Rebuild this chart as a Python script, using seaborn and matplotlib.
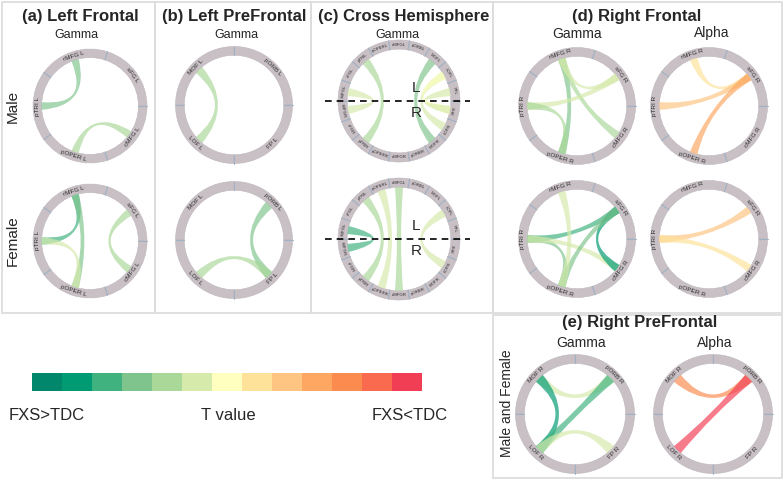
import numpy as np
import matplotlib
matplotlib.use('Agg')
import matplotlib.pyplot as plt
import seaborn as sns
from matplotlib.path import Path
from matplotlib.patches import PathPatch, Wedge, Rectangle
from matplotlib.colors import ListedColormap

# colour bins of the T value, from FXS>TDC (green) to FXS<TDC (red)
t_colors = ['#00876C', '#009B72', '#3FB27F', '#7FC48D', '#AAD899', '#D6EAAC', '#FFFFBF',
            '#FEE29A', '#FDC581', '#FDA762', '#FB8B4F', '#F96A4E', '#F23E55']
t_bins = [0, 1, 2, 3, 4, 5, 6, 7, 8, 9, 10, 11, 12]

# regions, in ring order (counter-clockwise starting at 3 o'clock)
frontal_l = ['sFG L', 'rMFG L', 'pTRI L', 'pOPER L', 'cMFG L']
frontal_r = ['sFG R', 'rMFG R', 'pTRI R', 'pOPER R', 'cMFG R']
prefrontal_l = ['pORB L', 'MOF L', 'LOF L', 'FP L']
prefrontal_r = ['pORB R', 'MOF R', 'LOF R', 'FP R']
cross = ['FPL', 'LOFL', 'MOFL', 'pORBL', 'cMFGL', 'pOPERL', 'pTRIL', 'sFGL', 'rMFGL',
         'rMFGR', 'sFGR', 'pTRIR', 'pOPERR', 'cMFGR', 'pORBR', 'MOFR', 'LOFR', 'FPR']

# significant connections: (region, region, T colour bin)
a_male = [('rMFG L', 'pTRI L', 3), ('pOPER L', 'cMFG L', 4)]
a_female = [('rMFG L', 'pTRI L', 2), ('rMFG L', 'pOPER L', 3),
            ('pTRI L', 'pOPER L', 5), ('sFG L', 'cMFG L', 4)]
b_male = [('MOF L', 'LOF L', 4)]
b_female = [('pORB L', 'FP L', 3), ('LOF L', 'FP L', 4)]
c_male = [('pTRIL', 'pTRIR', 4), ('MOFL', 'MOFR', 3), ('rMFGL', 'rMFGR', 5),
          ('LOFL', 'LOFR', 5), ('LOFL', 'FPR', 6), ('FPL', 'FPR', 5)]
c_female = [('rMFGL', 'rMFGR', 2), ('pTRIL', 'pTRIR', 4), ('pOPERL', 'pOPERR', 5),
            ('cMFGL', 'cMFGR', 4), ('LOFL', 'LOFR', 5)]
d_gamma_male = [('rMFG R', 'pOPER R', 3), ('rMFG R', 'cMFG R', 4), ('sFG R', 'pTRI R', 5),
                ('pTRI R', 'pOPER R', 4), ('sFG R', 'rMFG R', 5)]
d_alpha_male = [('rMFG R', 'sFG R', 7), ('sFG R', 'pTRI R', 8), ('sFG R', 'pOPER R', 9)]
d_gamma_female = [('pTRI R', 'sFG R', 2), ('pTRI R', 'pOPER R', 3), ('pTRI R', 'cMFG R', 5),
                  ('sFG R', 'cMFG R', 1), ('sFG R', 'pOPER R', 3), ('rMFG R', 'pOPER R', 5)]
d_alpha_female = [('pTRI R', 'sFG R', 8), ('pTRI R', 'cMFG R', 7)]
e_gamma = [('MOF R', 'pORB R', 5), ('MOF R', 'LOF R', 1), ('pORB R', 'LOF R', 2), ('LOF R', 'FP R', 5)]
e_alpha = [('MOF R', 'pORB R', 10), ('LOF R', 'pORB R', 12)]

sns.set_style('white')
plt.rcParams['font.family'] = ['Liberation Sans', 'DejaVu Sans']

W, H = 784, 479
fig = plt.figure(figsize=(W / 100, H / 100), dpi=100)

RING = '#C9C0C5'
SEP = '#9FB2C6'
R_IN = 0.85


def ribbon(ax, t1, t2, w, color):
    r = R_IN
    a = np.radians(np.linspace(t1 - w / 2, t1 + w / 2, 12))
    b = np.radians(np.linspace(t2 - w / 2, t2 + w / 2, 12))
    verts = [(r * np.cos(x), r * np.sin(x)) for x in a]
    codes = [Path.MOVETO] + [Path.LINETO] * (len(a) - 1)
    verts += [(0, 0), (r * np.cos(b[0]), r * np.sin(b[0]))]
    codes += [Path.CURVE3, Path.CURVE3]
    verts += [(r * np.cos(x), r * np.sin(x)) for x in b[1:]]
    codes += [Path.LINETO] * (len(b) - 1)
    verts += [(0, 0), verts[0]]
    codes += [Path.CURVE3, Path.CURVE3]
    ax.add_patch(PathPatch(Path(verts, codes), fc=color, ec='none', alpha=0.68, zorder=2))


def chord(cx, cy, rpx, nodes, links, fs=4.6, w=9):
    s = 1.04 * rpx
    ax = fig.add_axes([(cx - s) / W, 1 - (cy + s) / H, 2 * s / W, 2 * s / H])
    ax.set_xlim(-1.04, 1.04)
    ax.set_ylim(-1.04, 1.04)
    ax.axis('off')
    step = 360 / len(nodes)
    ang = {}
    for i, name in enumerate(nodes):
        ax.add_patch(Wedge((0, 0), 1.0, i * step, (i + 1) * step, width=1 - R_IN,
                           fc=RING, ec='#BDB6BB', lw=0.4, zorder=1))
        t = np.radians(i * step)
        ax.plot([R_IN * np.cos(t), np.cos(t)], [R_IN * np.sin(t), np.sin(t)],
                color=SEP, lw=0.8, zorder=1.5)
        mid = (i + 0.5) * step
        ang[name] = mid
        rot = mid - 90 if 0 < mid <= 180 else mid + 90
        rl = (1 + R_IN) / 2
        ax.text(rl * np.cos(np.radians(mid)), rl * np.sin(np.radians(mid)), name,
                rotation=rot, ha='center', va='center', fontsize=fs, color='#2b2b2b', zorder=3)
    for a, b, lvl in links:
        ribbon(ax, ang[a], ang[b], w, t_colors[lvl])
    return ax


def ftext(x, y, s, **kw):
    fig.text(x / W, 1 - y / H, s, ha='center', va='center', **kw)


# panel frames
for x0, y0, bw, bh in [(2, 2, 153, 311), (155, 2, 156, 311), (311, 2, 182, 311),
                       (493, 2, 289, 311), (493, 315, 289, 163)]:
    fig.add_artist(Rectangle((x0 / W, 1 - (y0 + bh) / H), bw / W, bh / H, fill=False,
                             ec='#DDDDDD', lw=1.3, transform=fig.transFigure))

# (a) Left Frontal
ftext(80, 16, '(a) Left Frontal', fontsize=12, fontweight='bold')
ftext(76, 35, 'Gamma', fontsize=9)
ftext(13, 106, 'Male', fontsize=11, rotation=90)
ftext(13, 241, 'Female', fontsize=11, rotation=90)
chord(90, 106, 57, frontal_l, a_male)
chord(90, 241, 57, frontal_l, a_female)

# (b) Left PreFrontal
ftext(234, 16, '(b) Left PreFrontal', fontsize=12, fontweight='bold')
ftext(236, 35, 'Gamma', fontsize=9)
chord(234, 105, 58.5, prefrontal_l, b_male, w=10)
chord(234, 240, 58.5, prefrontal_l, b_female, w=10)

# (c) Cross Hemisphere
ftext(404, 16, '(c) Cross Hemisphere', fontsize=12, fontweight='bold')
ftext(397, 35, 'Gamma', fontsize=9)
for cy, links in [(101, c_male), (239, c_female)]:
    ax = chord(399, cy, 61, cross, links, fs=3.1, w=9)
    ax.plot([-1.21, 1.16], [0, 0], color='black', lw=1.2, ls=(0, (4, 3)), clip_on=False, zorder=5)
    ax.text(0.28, 0.21, 'L', fontsize=11, ha='center', va='center', zorder=5)
    ax.text(0.28, -0.2, 'R', fontsize=11, ha='center', va='center', zorder=5)

# (d) Right Frontal
ftext(637, 16, '(d) Right Frontal', fontsize=12, fontweight='bold')
ftext(577, 34, 'Gamma', fontsize=10)
ftext(712, 33, 'Alpha', fontsize=10)
chord(577, 106, 58.5, frontal_r, d_gamma_male)
chord(709, 106, 58.5, frontal_r, d_alpha_male)
chord(577, 239, 58.5, frontal_r, d_gamma_female)
chord(709, 239, 58.5, frontal_r, d_alpha_female)

# (e) Right PreFrontal
ftext(640, 323, '(e) Right PreFrontal', fontsize=12, fontweight='bold')
ftext(581, 343, 'Gamma', fontsize=10)
ftext(715, 343, 'Alpha', fontsize=10)
ftext(507, 403, 'Male and Female', fontsize=10, rotation=90)
chord(575, 414, 59.5, prefrontal_r, e_gamma, w=11)
chord(713, 414, 59.5, prefrontal_r, e_alpha, w=11)

# colour bar
cax = fig.add_axes([32 / W, 1 - 391 / H, 390 / W, 18 / H])
sns.heatmap(np.array([t_bins]), cmap=ListedColormap(t_colors), cbar=False,
            xticklabels=False, yticklabels=False, ax=cax)
ftext(47, 415, 'FXS>TDC', fontsize=12)
ftext(228, 415, 'T value', fontsize=12)
ftext(410, 415, 'FXS<TDC', fontsize=12)

fig.savefig('out.png', dpi=100)
